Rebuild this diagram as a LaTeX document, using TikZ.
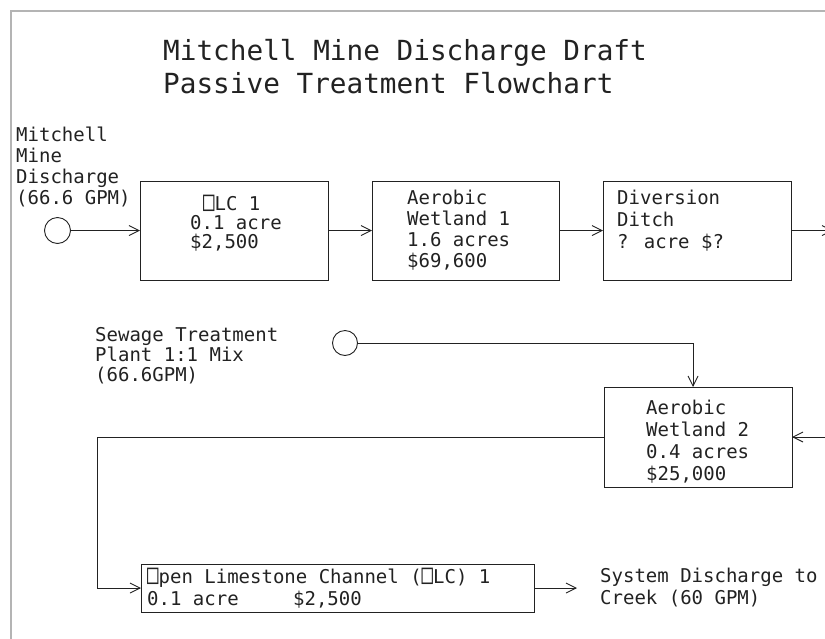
\documentclass[tikz,border=0pt]{standalone}
\usepackage{fontspec}
\usepackage{graphicx}
\setmainfont{DejaVu Sans Mono}
\usetikzlibrary{arrows.meta}
\definecolor{ink}{HTML}{222222}
\definecolor{frame}{HTML}{B4B4B4}
\newcommand\sqO{\scalebox{1}[1.45]{□}}
\tikzset{
  box/.style={draw=ink, line width=0.9pt, inner sep=0pt, outer sep=0pt, rectangle},
  src/.style={draw=ink, line width=0.9pt, circle, inner sep=0pt, minimum size=26pt},
  arr/.style={draw=ink, line width=0.9pt, -{Straight Barb[length=10pt,width=10pt,line width=0.9pt]}},
  ln/.style={draw=ink, line width=0.9pt},
  txt/.style={anchor=north west, align=left, inner sep=0pt, text=ink},
  small/.style={font=\fontsize{19}{#1}\selectfont},
}
\begin{document}
\begin{tikzpicture}[x=1pt,y=-1pt]
\clip (0,0) rectangle (825,638);
\fill[white] (0,0) rectangle (825,638);
\draw[frame, line width=1.3pt] (11,640) -- (11,11) -- (830,11);

% title
\node[anchor=north west, align=left, inner sep=0pt, text=ink, font=\fontsize{27.7}{33}\selectfont] (title) at (163,39)
  {Mitchell Mine Discharge Draft\\Passive Treatment Flowchart};

% first row
\node[txt, small=21] (lab1) at (16,127) {Mitchell\\Mine\\Discharge\\(66.6 GPM)};
\node[src] (c1) at (57.5,230.5) {};
\node[box, minimum width=188pt, minimum height=99pt] (b1) at (234,230.5) {};
\node[box, minimum width=187pt, minimum height=99pt] (b2) at (465.5,230.5) {};
\node[box, minimum width=188pt, minimum height=99pt] (b3) at (697,230.5) {};
\node[txt, small=19] (t1) at (190,195) {\hspace*{13pt}\sqO LC 1\\0.1 acre\\\$2,500};
\node[txt, small=21] (t2) at (407,190) {Aerobic\\Wetland 1\\1.6 acres\\\$69,600};
\node[txt, small=22] (t3) at (617,190) {Diversion\\Ditch\\? acre \$?};
\coordinate (out3) at (833,230.5);

\draw[arr] (c1) -- (b1.west);
\draw[arr] (b1) -- (b2);
\draw[arr] (b2) -- (b3);
\draw[arr] (b3) -- (out3);

% second row
\node[txt, small=20] (lab2) at (95,327) {Sewage Treatment\\Plant 1:1 Mix\\(66.6GPM)};
\node[src, minimum size=25pt] (c2) at (345,343) {};
\node[box, minimum width=188pt, minimum height=100pt] (b4) at (698,437) {};
\node[txt, small=22] (t4) at (646,400) {Aerobic\\Wetland 2\\0.4 acres\\\$25,000};
\coordinate (in4) at (835,437);
\coordinate (bend) at (97,588);

\draw[arr] (c2) -| ([xshift=-5pt]b4.north);
\draw[arr] (in4) -- (b4.east);

% third row
\node[box, minimum width=393pt, minimum height=48pt] (b5) at (337.5,588) {};
\node[txt, small=22] (t5) at (147,568) {\sqO pen Limestone Channel (\sqO LC) 1\\\makebox[146pt][l]{0.1 acre}\$2,500};
\node[txt, small=22] (lab3) at (600,568) {System Discharge to\\Creek (60 GPM)};
\coordinate (out5) at (577,588);

\draw[arr] (b4.west) -| (bend) -- (b5.west);
\draw[arr] (b5.east) -- (out5);
\end{tikzpicture}
\end{document}
